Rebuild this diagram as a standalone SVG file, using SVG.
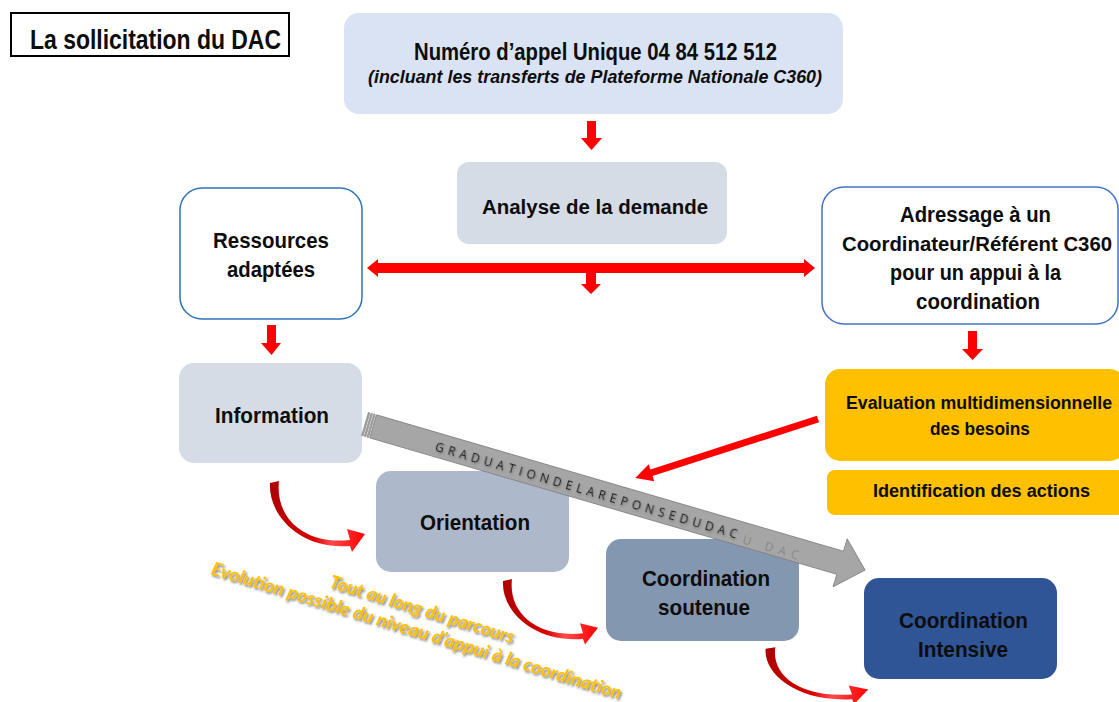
<svg xmlns="http://www.w3.org/2000/svg" width="1119" height="702" viewBox="0 0 1119 702">
<style>
.t{font-family:"Liberation Sans",Arial,sans-serif;font-weight:bold;fill:#0d0d0d}
.red{fill:#ff0000}
.yl{font-family:Lato,"Open Sans",sans-serif;font-weight:bold;font-style:italic;fill:#ffc000;font-size:18.5px}
.arrtxt{font-family:"Open Sans","Liberation Sans",sans-serif;font-size:12px}
</style>
<defs>
<filter id="sh" x="-10%" y="-50%" width="120%" height="200%">
<feDropShadow dx="1.5" dy="2" stdDeviation="1" flood-color="#595959" flood-opacity="0.75"/>
</filter>
<filter id="sh2" x="-10%" y="-50%" width="120%" height="200%">
<feDropShadow dx="1" dy="1.5" stdDeviation="0.8" flood-color="#404040" flood-opacity="0.5"/>
</filter>
<linearGradient id="cg" x1="0" y1="0" x2="1" y2="0">
<stop offset="0" stop-color="#b00000"/>
<stop offset="0.45" stop-color="#d80000"/>
<stop offset="0.65" stop-color="#ff4a4a"/>
<stop offset="1" stop-color="#ff0000"/>
</linearGradient>
<path id="curv" d="M-5,1 C-7,33 25,68 75,64 L77,70 L90,52 L72,47 L75,58 C28,63 0,35 4,-1 Z" fill="url(#cg)"/>
</defs>

<g id="title">
<rect x="11" y="13" width="278" height="43" fill="#fff" stroke="#000" stroke-width="2"/>
<text class="t" x="30" y="49" font-size="28" textLength="251" lengthAdjust="spacingAndGlyphs">La sollicitation du DAC</text>
</g>

<g id="numero">
<rect x="344" y="13" width="499" height="101" rx="15" fill="#dae3f3"/>
<text class="t" x="414" y="60" font-size="23" textLength="363" lengthAdjust="spacingAndGlyphs">Numéro d’appel Unique 04 84 512 512</text>
<text class="t" x="368" y="83" font-size="17.5" font-style="italic" textLength="454" lengthAdjust="spacingAndGlyphs">(incluant les transferts de Plateforme Nationale C360)</text>
</g>

<g id="analyse">
<rect x="457" y="162" width="270" height="82" rx="12" fill="#d6dce5"/>
<text class="t" x="482" y="214" font-size="20" textLength="226" lengthAdjust="spacingAndGlyphs">Analyse de la demande</text>
</g>

<g id="ressources">
<rect x="180" y="188" width="182" height="131" rx="22" fill="#fff" stroke="#2e75b6" stroke-width="1.5"/>
<text class="t" x="213" y="248" font-size="22" textLength="116" lengthAdjust="spacingAndGlyphs">Ressources</text>
<text class="t" x="227" y="277" font-size="22" textLength="88" lengthAdjust="spacingAndGlyphs">adaptées</text>
</g>

<g id="adressage">
<rect x="822" y="187" width="296" height="137" rx="22" fill="#fff" stroke="#4472c4" stroke-width="1.5"/>
<text class="t" x="900" y="222" font-size="22" textLength="151" lengthAdjust="spacingAndGlyphs">Adressage à un</text>
<text class="t" x="842" y="251" font-size="20.5" textLength="270" lengthAdjust="spacingAndGlyphs">Coordinateur/Référent C360</text>
<text class="t" x="890" y="280" font-size="22" textLength="171" lengthAdjust="spacingAndGlyphs">pour un appui à la</text>
<text class="t" x="916" y="309" font-size="22" textLength="124" lengthAdjust="spacingAndGlyphs">coordination</text>
</g>

<g id="information">
<rect x="179" y="363" width="183" height="100" rx="15" fill="#d6dce5"/>
<text class="t" x="215" y="423" font-size="22" textLength="114" lengthAdjust="spacingAndGlyphs">Information</text>
</g>

<g id="evaluation">
<rect x="825" y="369" width="300" height="92" rx="15" fill="#ffc000"/>
<text class="t" x="846" y="409" font-size="18" textLength="266" lengthAdjust="spacingAndGlyphs">Evaluation multidimensionnelle</text>
<text class="t" x="930" y="435" font-size="18" textLength="100" lengthAdjust="spacingAndGlyphs">des besoins</text>
</g>

<g id="identification">
<rect x="827" y="470" width="298" height="45" rx="8" fill="#ffc000"/>
<text class="t" x="873" y="497" font-size="18" textLength="217" lengthAdjust="spacingAndGlyphs">Identification des actions</text>
</g>

<g id="orientation">
<rect x="376" y="471" width="193" height="101" rx="15" fill="#adb9ca"/>
<text class="t" x="420" y="530" font-size="22" textLength="110" lengthAdjust="spacingAndGlyphs">Orientation</text>
</g>

<g id="coord-soutenue">
<rect x="606" y="539" width="193" height="102" rx="15" fill="#8497b0"/>
<text class="t" x="642" y="586" font-size="22" textLength="128" lengthAdjust="spacingAndGlyphs">Coordination</text>
<text class="t" x="658" y="615" font-size="22" textLength="92" lengthAdjust="spacingAndGlyphs">soutenue</text>
</g>

<g id="coord-intensive">
<rect x="864" y="578" width="193" height="101" rx="15" fill="#2f5597"/>
<text class="t" x="899" y="628" font-size="22" textLength="129" lengthAdjust="spacingAndGlyphs">Coordination</text>
<text class="t" x="918" y="657" font-size="22" textLength="90" lengthAdjust="spacingAndGlyphs">Intensive</text>
</g>

<g id="annotation" filter="url(#sh)">
<g transform="translate(418,622) rotate(17)">
<text class="yl" x="0" y="-7" text-anchor="middle" textLength="192" lengthAdjust="spacingAndGlyphs">Tout au long du parcours</text>
<text class="yl" x="1" y="15" text-anchor="middle" textLength="428" lengthAdjust="spacingAndGlyphs">Evolution possible du niveau d’appui à la coordination</text>
</g>
</g>

<g id="connectors">
<polygon class="red" points="587,121 596,121 596,138 602,138 591.5,150 581,138 587,138"/>
<polygon class="red" points="367,268 378,259 378,263 804,263 804,259 815,268 804,277 804,273 596,273 596,284 601,284 591,294 581,284 586,284 586,273 378,273 378,277"/>
<polygon class="red" points="267,325 276,325 276,343 281,343 271.5,355 261,343 267,343"/>
<polygon class="red" points="968,331 977,331 977,349 983,349 972.5,360 962,349 968,349"/>
<polygon class="red" transform="translate(818,419) rotate(162.1)" points="0,-3.5 175,-3.5 175,-9 192,0 175,9 175,3.5 0,3.5"/>
<use href="#curv" transform="translate(275,482)"/>
<use href="#curv" transform="translate(508,580) scale(1,0.92)"/>
<use href="#curv" transform="translate(771,648) scale(1.08,0.8)"/>
<g transform="translate(365,424) rotate(16.28)">
<rect x="0" y="-12" width="1.5" height="24" fill="#a6a6a6" stroke="#7f7f7f" stroke-width="0.6"/>
<rect x="2.8" y="-12" width="1.5" height="24" fill="#a6a6a6" stroke="#7f7f7f" stroke-width="0.6"/>
<rect x="5.6" y="-12" width="1.5" height="24" fill="#a6a6a6" stroke="#7f7f7f" stroke-width="0.6"/>
<polygon points="8.4,-12 495,-12 495,-25 521,0 495,25 495,12 8.4,12" fill="#a6a6a6" stroke="#7f7f7f" stroke-width="0.8"/>
<text class="arrtxt" x="395" y="9" fill="#8a8a8a" textLength="58" lengthAdjust="spacing">U DAC</text>
<text class="arrtxt" x="74" y="6" fill="#1a1a1a" filter="url(#sh2)" textLength="314" lengthAdjust="spacing">GRADUATIONDELAREPONSEDUDAC</text>
</g>
</g>
</svg>
